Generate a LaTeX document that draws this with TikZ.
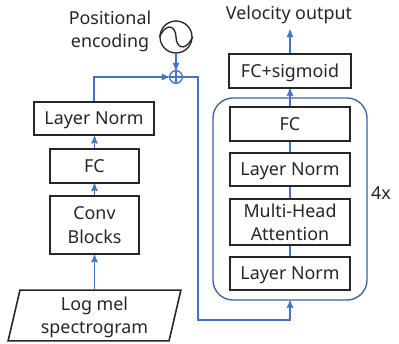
\documentclass[tikz,border=0pt]{standalone}
\usepackage{fontspec}
\setmainfont{Noto Sans}
\usepackage{tikz}
\usetikzlibrary{arrows,shapes.geometric}
\definecolor{linkblue}{HTML}{4472C4}
\definecolor{frameblue}{HTML}{3A62A5}
\definecolor{ink}{HTML}{262626}

\begin{document}
\begin{tikzpicture}
[x=0.75pt,y=-0.75pt,>=stealth',
block/.style={rectangle,draw=ink,line width=1.6pt,fill=white,inner sep=0pt,align=center,text=ink,text depth=0pt,font=\fontsize{13.4}{17.5}\selectfont},
link/.style={draw=linkblue,line width=1pt},
flow/.style={link,->},
caption/.style={inner sep=0pt,align=center,text=ink,text depth=0pt,font=\fontsize{13.4}{17.5}\selectfont}]
\useasboundingbox (0,0) rectangle (399,343);

\node[rectangle,draw=frameblue,line width=1pt,rounded corners=15pt,minimum width=115.5pt,minimum height=151.5pt] (repeat) at (290,199) {};

\node[block,minimum width=90pt,minimum height=25pt] (normtop) at (94,118.5) {Layer Norm};
\node[block,minimum width=67pt,minimum height=25pt] (fcleft) at (94.5,166) {FC};
\node[block,minimum width=67pt,minimum height=43.5pt] (conv) at (94.5,225) {Conv\\Blocks};
\node[trapezium,trapezium stretches=true,trapezium left angle=77,trapezium right angle=103,draw=ink,line width=1.2pt,inner sep=0pt,align=center,text=ink,text depth=0pt,minimum width=130pt,minimum height=38pt,font=\fontsize{13.4}{17.5}\selectfont] (logmel) at (94.5,315.5) {Log mel\\spectrogram};

\node[block,minimum width=91pt,minimum height=25pt] (fcsig) at (290,71) {FC+sigmoid};
\node[block,minimum width=90pt,minimum height=25pt] (fcright) at (290,124) {FC};
\node[block,minimum width=90pt,minimum height=25pt] (normmid) at (290,169.5) {Layer Norm};
\node[block,minimum width=90pt,minimum height=34.5pt] (attention) at (290,222) {Multi-Head\\Attention};
\node[block,minimum width=90pt,minimum height=25pt] (normlow) at (290,273.5) {Layer Norm};

\node[circle,draw=ink,line width=1pt,minimum size=24pt,inner sep=0pt] (wave) at (176,37) {};
\node[circle,draw=linkblue,line width=1pt,minimum size=9.5pt,inner sep=0pt] (plus) at (176,77) {};
\draw[link] (plus.north) -- (plus.south);
\draw[link] (plus.west) -- (plus.east);
\draw[draw=ink,line width=1pt] (wave.west) .. controls (168,20) and (176,28) .. (wave.center) .. controls (176,46) and (184,54) .. (wave.east);

\node[caption] (posenc) at (110,29) {Positional\\encoding};
\node[caption] (velocity) at (289,13) {Velocity output};
\node[caption] (times) at (381,193) {4x};
\coordinate (velocityin) at (290,30);
\coordinate (turnleft) at (94,77);
\coordinate (turnup) at (198,77);
\coordinate (turndown) at (198,320);
\coordinate (turnright) at (290,320);

\draw[flow] (logmel.north -| conv.south) -- (conv.south);
\draw[flow] (conv.north) -- (fcleft.south);
\draw[flow] (fcleft.north) -- (normtop.south -| fcleft.north);
\draw[flow] (normtop.north) -- (turnleft) -- (plus.west);
\draw[flow] (wave.south) -- (plus.north);
\draw[flow] (plus.east) -- (turnup) -- (turndown) -- (turnright) -- (repeat.south);
\draw[link] (normlow.north) -- (attention.south);
\draw[link] (attention.north) -- (normmid.south);
\draw[link] (normmid.north) -- (fcright.south);
\draw[flow] (fcright.north) -- (fcsig.south);
\draw[flow] (fcsig.north) -- (velocityin);
\end{tikzpicture}
\end{document}
